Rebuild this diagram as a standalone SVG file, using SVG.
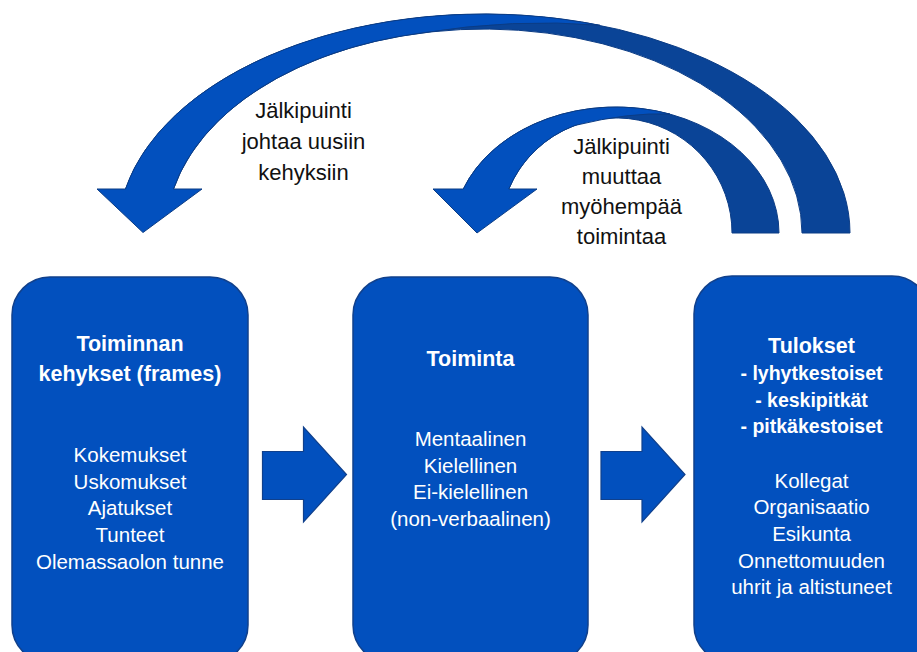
<svg xmlns="http://www.w3.org/2000/svg" width="917" height="652" viewBox="0 0 917 652">
  <style>
    .box { fill: #0250BE; stroke: #10408C; stroke-width: 1.5; }
    .blk { fill: #0250BE; stroke: #10408C; stroke-width: 1.2; }
    .back { fill: #0A4497; stroke: #0B3C85; stroke-width: 1; }
    .front { fill: #0250BE; stroke: #0B3C85; stroke-width: 1; }
    text { font-family: "Liberation Sans", Arial, sans-serif; text-anchor: middle; }
    .title { fill: #ffffff; font-weight: bold; font-size: 21.5px; }
    .sub { fill: #ffffff; font-weight: bold; font-size: 19.5px; }
    .body { fill: #ffffff; font-size: 20.5px; }
    .label { fill: #111111; font-size: 22px; }
  </style>

  <!-- Nodes -->
  <g id="frames">
    <rect class="box" x="12" y="277" width="236" height="386" rx="38" ry="38"/>
    <text class="title" x="130" y="351">Toiminnan</text>
    <text class="title" x="130" y="381">kehykset (frames)</text>
    <text class="body" x="130" y="462">Kokemukset</text>
    <text class="body" x="130" y="488.7">Uskomukset</text>
    <text class="body" x="130" y="515.3">Ajatukset</text>
    <text class="body" x="130" y="542">Tunteet</text>
    <text class="body" x="130" y="568.7">Olemassaolon tunne</text>
  </g>

  <g id="action">
    <rect class="box" x="353" y="277" width="235" height="386" rx="38" ry="38"/>
    <text class="title" x="470.5" y="366">Toiminta</text>
    <text class="body" x="470.5" y="446">Mentaalinen</text>
    <text class="body" x="470.5" y="472.7">Kielellinen</text>
    <text class="body" x="470.5" y="499.3">Ei-kielellinen</text>
    <text class="body" x="470.5" y="526">(non-verbaalinen)</text>
  </g>

  <g id="results">
    <rect class="box" x="694" y="276" width="236" height="387" rx="38" ry="38"/>
    <text class="title" x="811.5" y="352.7">Tulokset</text>
    <text class="sub" x="811.5" y="380">- lyhytkestoiset</text>
    <text class="sub" x="811.5" y="406.7">- keskipitkät</text>
    <text class="sub" x="811.5" y="433.3">- pitkäkestoiset</text>
    <text class="body" x="811.5" y="487.7">Kollegat</text>
    <text class="body" x="811.5" y="514.3">Organisaatio</text>
    <text class="body" x="811.5" y="541">Esikunta</text>
    <text class="body" x="811.5" y="567.7">Onnettomuuden</text>
    <text class="body" x="811.5" y="594.3">uhrit ja altistuneet</text>
  </g>

  <!-- Connectors -->
  <g id="connectors">
    <!-- block arrows between the boxes -->
    <path class="blk" d="M262.5,451.5 H303.5 V427 L346.5,474.5 L303.5,522 V499.5 H262.5 Z"/>
    <path class="blk" d="M601,451.5 H642 V427 L685,474.5 L642,522 V499.5 H601 Z"/>

    <!-- outer feedback arc: results back to frames -->
    <g id="loop-frames">
      <path class="back" d="M850,233 A366,219 0 0 0 125.5,189 L173.5,189 A318,204 0 0 1 802,233 Z"/>
      <path class="front" d="M97,189 L125.5,189 A366,219 0 0 1 600,25.3 Q515,18 420,33.2 A318,204 0 0 0 173.5,189 L202,189 L143,232.5 Z"/>
      <text class="label" x="303.5" y="118">Jälkipuinti</text>
      <text class="label" x="303.5" y="149">johtaa uusiin</text>
      <text class="label" x="303.5" y="179.5">kehyksiin</text>
    </g>

    <!-- inner feedback arc: results back to action -->
    <g id="loop-action">
      <path class="back" d="M779,233 A163,126 0 0 0 463.3,189 L508.8,189 A116,115 0 0 1 732,233 Z"/>
      <path class="front" d="M433,189 L463.3,189 A163,126 0 0 1 670,114.1 Q630,112 575,125.4 A116,115 0 0 0 508.8,189 L537,189 L477,233 Z"/>
      <text class="label" x="621.5" y="154">Jälkipuinti</text>
      <text class="label" x="621.5" y="184">muuttaa</text>
      <text class="label" x="621.5" y="214">myöhempää</text>
      <text class="label" x="621.5" y="244">toimintaa</text>
    </g>
  </g>
</svg>
